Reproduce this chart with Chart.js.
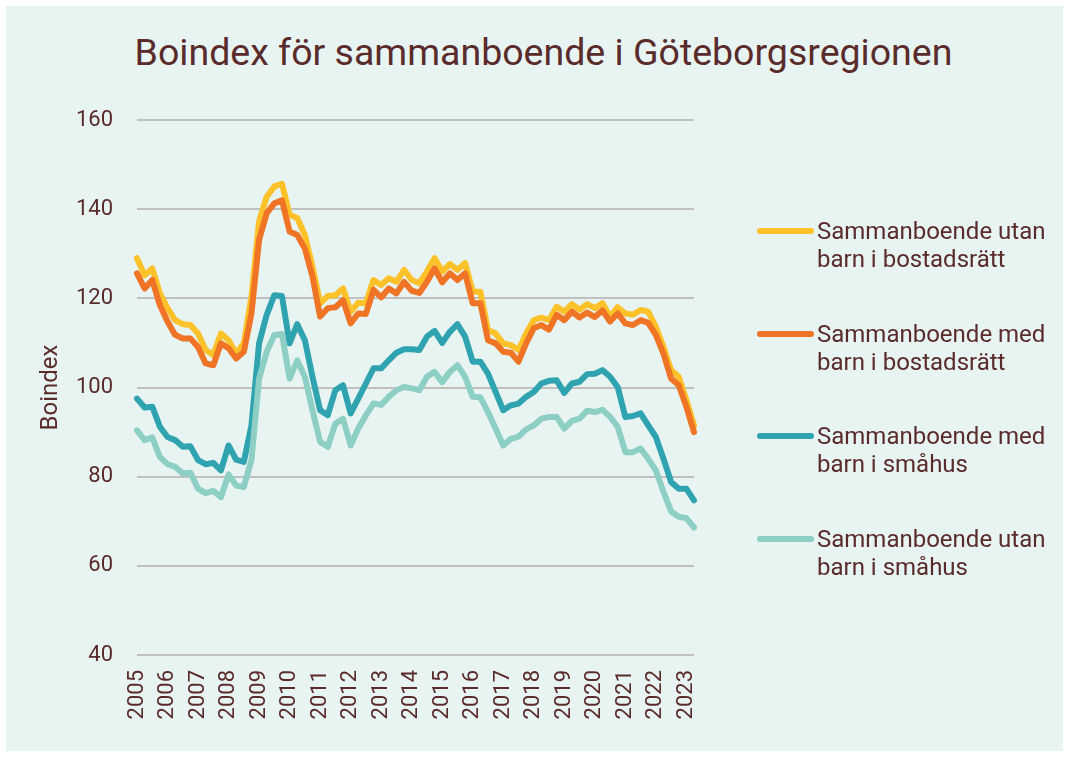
<!DOCTYPE html>
<html lang="sv">
<head>
<meta charset="utf-8">
<title>Boindex</title>
<script src="https://cdn.jsdelivr.net/npm/chart.js@4.4.1/dist/chart.umd.min.js"></script>
<style>
  body { margin: 0; background: #ffffff; }
  #wrap { position: relative; width: 1069px; height: 757px; overflow: hidden; }
  #panel { position: absolute; left: 6px; top: 6px; right: 6px; bottom: 6px; background: #e8f4f1; }
  #chart { position: absolute; left: 0; top: 0; }
  #title { position: absolute; left: 0; width: 1087px; top: 30px; text-align: center;
           font: 37.5px Roboto, sans-serif; line-height: 44px; color: #5a2b2b; white-space: nowrap; }
  .leg-line { position: absolute; left: 757px; width: 57px; height: 6px; border-radius: 3px; }
  .leg-text { position: absolute; left: 817px; font: 24px Roboto, sans-serif; line-height: 28px; color: #5a2b2b; white-space: nowrap; }
</style>
</head>
<body>
<div id="wrap">
  <div id="panel"></div>
  <div id="title">Boindex för sammanboende i Göteborgsregionen</div>
  <canvas id="chart" width="1069" height="757"></canvas>
  <div id="legend"></div>
</div>
<script>
const years = [2005, 2006, 2007, 2008, 2009, 2010, 2011, 2012, 2013, 2014, 2015, 2016, 2017, 2018, 2019, 2020, 2021, 2022, 2023];

// kvartal 2005 K1 - 2023 K2
const quarters = [];
years.forEach(y => {
    for (let q = 1; q <= 4; q++) {
        if (y === 2023 && q > 2) break;
        quarters.push(y + ' K' + q);
    }
});

const utanBostadsratt = [
    129.0, 125.2, 126.7, 121.1, 117.8, 115.1, 114.2, 114.0, 112.1, 108.4,
    107.3, 112.1, 110.6, 107.6, 109.9, 120.4, 137.2, 142.8, 145.1, 145.7,
    138.7, 138.0, 134.2, 127.1, 118.9, 120.5, 120.7, 122.2, 117.0, 119.0,
    118.9, 124.1, 123.0, 124.5, 123.7, 126.4, 124.1, 123.4, 126.0, 129.0,
    126.0, 127.7, 126.4, 127.9, 121.5, 121.5, 112.9, 112.1, 109.9, 109.5,
    108.4, 112.1, 115.1, 115.7, 115.1, 118.1, 117.0, 118.7, 117.5, 118.7,
    117.8, 118.9, 115.9, 118.0, 116.6, 116.3, 117.4, 117.0, 113.6, 109.1,
    103.9, 102.4, 97.2, 91.5
];

const medBostadsratt = [
    125.6, 122.2, 124.1, 118.5, 114.8, 111.8, 111.0, 111.0, 109.1, 105.4,
    105.0, 109.9, 108.8, 106.5, 108.0, 116.6, 133.1, 139.1, 141.3, 142.0,
    135.0, 134.2, 131.2, 124.9, 115.9, 117.8, 118.0, 119.6, 114.4, 116.6,
    116.5, 121.9, 120.2, 122.2, 121.1, 123.7, 121.7, 121.2, 123.7, 126.7,
    123.6, 125.6, 124.1, 125.6, 118.9, 118.9, 110.6, 109.9, 108.0, 107.8,
    105.8, 109.9, 113.3, 114.0, 113.0, 116.3, 115.1, 117.0, 115.7, 116.8,
    115.8, 117.3, 114.8, 116.6, 114.4, 114.0, 115.1, 114.5, 111.8, 107.6,
    102.0, 100.5, 95.7, 90.0
];

const medSmahus = [
    97.5, 95.5, 95.7, 91.2, 88.9, 88.2, 86.7, 86.8, 83.7, 82.8,
    83.1, 81.4, 87.0, 83.8, 83.3, 91.5, 109.9, 116.3, 120.7, 120.5,
    109.9, 114.2, 110.6, 102.4, 94.9, 93.8, 99.4, 100.5, 94.2, 97.5,
    100.9, 104.3, 104.3, 106.1, 107.8, 108.6, 108.6, 108.4, 111.4, 112.7,
    110.0, 112.5, 114.2, 111.4, 105.8, 105.8, 103.1, 99.0, 94.9, 96.0,
    96.4, 97.9, 99.0, 100.9, 101.5, 101.6, 98.8, 100.9, 101.3, 103.0,
    103.1, 103.9, 102.4, 100.1, 93.4, 93.6, 94.2, 91.5, 88.9, 84.0,
    78.8, 77.3, 77.3, 74.7
];

const utanSmahus = [
    90.4, 88.2, 88.8, 84.4, 82.8, 82.2, 80.7, 80.9, 77.3, 76.3,
    76.8, 75.4, 80.5, 78.0, 77.7, 83.7, 102.0, 108.0, 111.8, 112.0,
    102.0, 106.1, 102.4, 94.9, 87.8, 86.7, 91.9, 93.0, 87.0, 90.8,
    93.8, 96.4, 96.1, 97.9, 99.4, 100.1, 99.8, 99.4, 102.4, 103.5,
    101.2, 103.5, 105.0, 102.4, 97.9, 97.8, 94.5, 90.8, 87.0, 88.5,
    89.0, 90.6, 91.5, 93.0, 93.4, 93.4, 90.8, 92.5, 93.0, 94.8,
    94.5, 95.0, 93.4, 91.2, 85.5, 85.5, 86.3, 84.0, 81.4, 76.6,
    72.2, 71.0, 70.7, 68.6
];

const seriesNames = [
    ['Sammanboende utan', 'barn i bostadsrätt'],
    ['Sammanboende med', 'barn i bostadsrätt'],
    ['Sammanboende med', 'barn i småhus'],
    ['Sammanboende utan', 'barn i småhus']
];
const seriesData = [utanBostadsratt, medBostadsratt, medSmahus, utanSmahus];
const seriesColors = ['#fdc12a', '#ef7425', '#30a3b0', '#8dcfc4'];

const yTicks = [40, 60, 80, 100, 120, 140, 160];

const textColor = '#5a2b2b';
const fontFamily = 'Roboto, sans-serif';

const datasets = seriesData.map((d, i) => ({
    label: seriesNames[i].join(' '),
    data: d,
    borderColor: seriesColors[i],
    backgroundColor: seriesColors[i],
    borderWidth: 6,
    pointRadius: 0,
    tension: 0,
    borderJoinStyle: 'round',
    borderCapStyle: 'round',
    order: seriesData.length - i
}));

new Chart(document.getElementById('chart'), {
    type: 'line',
    data: { labels: quarters, datasets: datasets },
    options: {
        responsive: false,
        animation: false,
        devicePixelRatio: 1,
        layout: { padding: { left: 0, right: 375, top: 120, bottom: 0 } },
        plugins: {
            legend: { display: false },
            tooltip: { enabled: false },
            title: { display: false }
        },
        scales: {
            x: {
                grid: { display: false, drawTicks: false },
                border: { display: false },
                ticks: {
                    autoSkip: false,
                    maxRotation: 90,
                    minRotation: 90,
                    padding: 15,
                    color: textColor,
                    font: { family: fontFamily, size: 22 },
                    callback: function (value, index) {
                        const lab = quarters[index];
                        return lab.endsWith('K1') ? lab.slice(0, 4) : '';
                    }
                },
                afterFit: function (scale) { scale.height = 102; }
            },
            y: {
                min: yTicks[0],
                max: yTicks[yTicks.length - 1],
                afterBuildTicks: function (scale) {
                    scale.ticks = yTicks.map(v => ({ value: v }));
                },
                grid: { color: '#c0c0c0', lineWidth: 2, drawTicks: false },
                border: { display: false },
                ticks: {
                    padding: 24,
                    color: textColor,
                    font: { family: fontFamily, size: 22 }
                },
                title: {
                    display: true,
                    text: 'Boindex',
                    color: textColor,
                    font: { family: fontFamily, size: 24 },
                    padding: { top: 37, bottom: 0 }
                },
                afterFit: function (scale) { scale.width = 137; }
            }
        }
    }
});

// förklaring till höger
const legend = document.getElementById('legend');
seriesNames.forEach((lines, i) => {
    const cy = 231 + i * 102.7;
    const line = document.createElement('div');
    line.className = 'leg-line';
    line.style.top = (cy - 3) + 'px';
    line.style.background = seriesColors[i];
    legend.appendChild(line);

    const txt = document.createElement('div');
    txt.className = 'leg-text';
    txt.style.top = (cy - 14) + 'px';
    txt.innerHTML = lines.join('<br>');
    legend.appendChild(txt);
});
</script>
</body>
</html>
